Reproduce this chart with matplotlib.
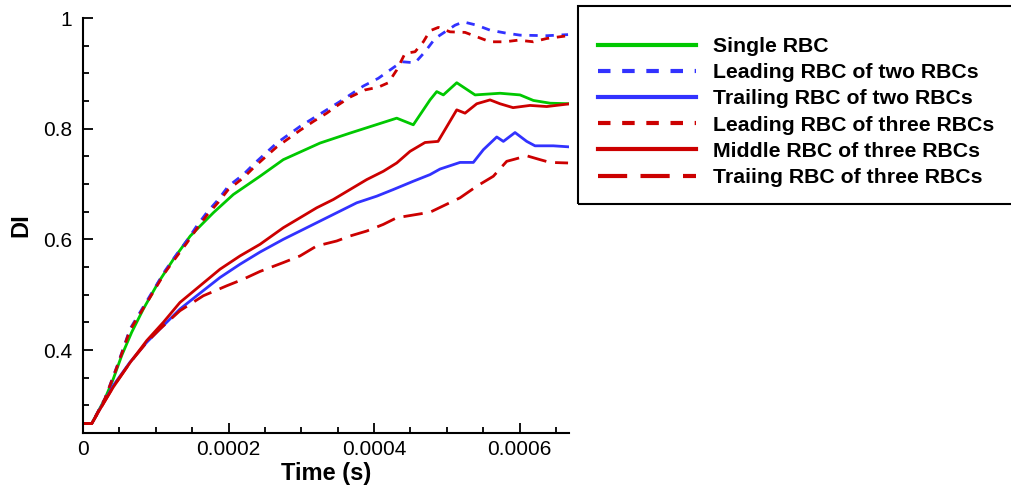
import matplotlib
matplotlib.use("Agg")
import matplotlib.pyplot as plt
from matplotlib.patches import Rectangle
from matplotlib.ticker import MultipleLocator, FormatStrFormatter
import numpy as np

plt.rcParams['font.family'] = ['Liberation Sans', 'DejaVu Sans']

# time in seconds, DI values
t_single = [0, 1.2e-5, 3.02e-5, 4.17e-5, 5.32e-5, 6.69e-5, 8.29e-5, 1.035e-4, 1.243e-4, 1.474e-4,
            1.791e-4, 2.066e-4, 2.433e-4, 2.753e-4, 3.258e-4, 3.670e-4, 4.312e-4, 4.54e-4, 4.77e-4,
            4.862e-4, 4.953e-4, 5.137e-4, 5.389e-4, 5.732e-4, 6.007e-4, 6.19e-4, 6.422e-4, 6.695e-4]
di_single = [0.267, 0.267, 0.312, 0.348, 0.390, 0.432, 0.474, 0.522, 0.564, 0.606,
             0.648, 0.681, 0.714, 0.744, 0.774, 0.792, 0.819, 0.807, 0.852,
             0.867, 0.861, 0.883, 0.861, 0.864, 0.861, 0.851, 0.846, 0.845]

t_lead2 = [0, 1.2e-5, 3.02e-5, 4.8e-5, 6.46e-5, 9.21e-5, 1.127e-4, 1.288e-4, 1.425e-4, 1.563e-4,
           1.70e-4, 1.86e-4, 1.997e-4, 2.203e-4, 2.364e-4, 2.663e-4, 2.983e-4, 3.35e-4, 3.533e-4,
           3.853e-4, 4.059e-4, 4.22e-4, 4.381e-4, 4.564e-4, 4.701e-4, 4.839e-4, 4.976e-4, 5.114e-4,
           5.228e-4, 5.412e-4, 5.595e-4, 5.801e-4, 6.007e-4, 6.374e-4, 6.667e-4]
di_lead2 = [0.267, 0.267, 0.312, 0.375, 0.438, 0.498, 0.543, 0.573, 0.597, 0.624,
            0.648, 0.672, 0.696, 0.717, 0.738, 0.774, 0.804, 0.834, 0.849,
            0.877, 0.891, 0.906, 0.921, 0.919, 0.939, 0.963, 0.975, 0.987,
            0.993, 0.987, 0.978, 0.973, 0.969, 0.968, 0.970]

t_trail2 = [0, 1.2e-5, 2.34e-5, 4.17e-5, 6.46e-5, 8.76e-5, 1.058e-4, 1.333e-4, 1.563e-4, 1.883e-4,
            2.158e-4, 2.433e-4, 2.753e-4, 2.983e-4, 3.212e-4, 3.487e-4, 3.762e-4, 4.037e-4, 4.265e-4,
            4.54e-4, 4.77e-4, 4.907e-4, 5.182e-4, 5.365e-4, 5.503e-4, 5.687e-4, 5.778e-4, 5.938e-4,
            6.099e-4, 6.213e-4, 6.465e-4, 6.695e-4]
di_trail2 = [0.267, 0.267, 0.294, 0.336, 0.378, 0.414, 0.438, 0.474, 0.498, 0.531,
             0.555, 0.577, 0.600, 0.615, 0.630, 0.648, 0.666, 0.678, 0.690,
             0.705, 0.717, 0.727, 0.739, 0.739, 0.762, 0.785, 0.777, 0.793,
             0.777, 0.769, 0.769, 0.767]

t_lead3 = [0, 1.2e-5, 3.02e-5, 4.8e-5, 6.46e-5, 9.21e-5, 1.127e-4, 1.288e-4, 1.425e-4, 1.563e-4,
           1.70e-4, 1.86e-4, 1.997e-4, 2.203e-4, 2.364e-4, 2.663e-4, 2.983e-4, 3.166e-4, 3.35e-4,
           3.509e-4, 3.67e-4, 3.876e-4, 4.059e-4, 4.197e-4, 4.312e-4, 4.426e-4, 4.564e-4, 4.678e-4,
           4.77e-4, 4.884e-4, 5.045e-4, 5.251e-4, 5.434e-4, 5.595e-4, 5.801e-4, 5.984e-4, 6.19e-4,
           6.374e-4, 6.667e-4]
di_lead3 = [0.267, 0.267, 0.312, 0.374, 0.436, 0.495, 0.540, 0.569, 0.593, 0.619,
            0.643, 0.667, 0.690, 0.711, 0.732, 0.767, 0.797, 0.813, 0.828,
            0.843, 0.857, 0.870, 0.875, 0.883, 0.906, 0.936, 0.939, 0.957,
            0.977, 0.983, 0.975, 0.974, 0.965, 0.957, 0.957, 0.960, 0.957,
            0.963, 0.968]

t_mid3 = [0, 1.2e-5, 2.34e-5, 4.17e-5, 6.46e-5, 8.76e-5, 1.104e-4, 1.333e-4, 1.608e-4, 1.883e-4,
          2.158e-4, 2.433e-4, 2.753e-4, 2.983e-4, 3.212e-4, 3.441e-4, 3.67e-4, 3.9e-4, 4.128e-4,
          4.312e-4, 4.495e-4, 4.701e-4, 4.88e-4, 5.137e-4, 5.251e-4, 5.412e-4, 5.595e-4, 5.732e-4,
          5.911e-4, 6.144e-4, 6.374e-4, 6.695e-4]
di_mid3 = [0.267, 0.267, 0.293, 0.333, 0.377, 0.417, 0.450, 0.486, 0.516, 0.546,
           0.570, 0.591, 0.621, 0.639, 0.657, 0.672, 0.690, 0.708, 0.723,
           0.738, 0.759, 0.775, 0.777, 0.834, 0.828, 0.845, 0.852, 0.845,
           0.838, 0.842, 0.840, 0.845]

t_trail3 = [0, 1.2e-5, 2.34e-5, 4.17e-5, 6.46e-5, 8.76e-5, 1.058e-4, 1.333e-4, 1.654e-4, 1.975e-4,
            2.203e-4, 2.433e-4, 2.753e-4, 2.983e-4, 3.212e-4, 3.487e-4, 3.67e-4, 3.9e-4, 4.128e-4,
            4.312e-4, 4.587e-4, 4.77e-4, 5.182e-4, 5.412e-4, 5.64e-4, 5.824e-4, 5.938e-4, 6.099e-4,
            6.282e-4, 6.42e-4, 6.667e-4]
di_trail3 = [0.267, 0.267, 0.293, 0.334, 0.377, 0.414, 0.438, 0.471, 0.498, 0.516,
             0.528, 0.542, 0.558, 0.570, 0.588, 0.597, 0.606, 0.615, 0.627,
             0.639, 0.645, 0.649, 0.675, 0.696, 0.714, 0.741, 0.745, 0.751,
             0.744, 0.739, 0.738]

labels = ['Single RBC', 'Leading RBC of two RBCs', 'Trailing RBC of two RBCs',
          'Leading RBC of three RBCs', 'Middle RBC of three RBCs', 'Traiing RBC of three RBCs']

green = '#00c800'
blue = '#3232ff'
red = '#cc0000'
short_dash = (3.0, 2.8)
long_dash = (7.0, 3.2)

fig = plt.figure(figsize=(10.11, 4.86), dpi=100)
ax = fig.add_axes([83 / 1011, 53 / 486, 486 / 1011, 415 / 486])

lw = 2.0
ax.plot(t_single, di_single, color=green, lw=lw, label=labels[0])
ax.plot(t_lead2, di_lead2, color=blue, lw=lw, dashes=short_dash, label=labels[1])
ax.plot(t_trail2, di_trail2, color=blue, lw=lw, label=labels[2])
ax.plot(t_lead3, di_lead3, color=red, lw=lw, dashes=short_dash, label=labels[3])
ax.plot(t_mid3, di_mid3, color=red, lw=lw, label=labels[4])
ax.plot(t_trail3, di_trail3, color=red, lw=lw, dashes=long_dash, label=labels[5])

ax.set_xlim(0, 0.000668)
ax.set_ylim(0.25, 1.0)
ax.xaxis.set_major_locator(MultipleLocator(0.0002))
ax.xaxis.set_minor_locator(MultipleLocator(0.00005))
ax.yaxis.set_major_locator(MultipleLocator(0.2))
ax.yaxis.set_minor_locator(MultipleLocator(0.05))
ax.xaxis.set_major_formatter(FormatStrFormatter('%g'))
ax.yaxis.set_major_formatter(FormatStrFormatter('%g'))

for side in ['top', 'right']:
    ax.spines[side].set_visible(False)
for side in ['left', 'bottom']:
    ax.spines[side].set_linewidth(1.5)
ax.tick_params(which='both', direction='in', width=1.3, labelsize=15)
ax.tick_params(which='major', length=7, pad=8)
ax.tick_params(axis='x', which='major', pad=5)
ax.tick_params(which='minor', length=4)

ax.set_xlabel('Time (s)', fontsize=17, fontweight='bold')
ax.set_ylabel('DI', fontsize=17, fontweight='bold')
ax.xaxis.set_label_coords(0.5, -40 / 415)
ax.xaxis.label.set_va('center')
ax.yaxis.set_label_coords(-62 / 486, 0.5)
ax.yaxis.label.set_va('center')

# legend frame drawn separately (extends past the right edge)
fig.patches.append(Rectangle((578 / 1011, 1 - 204 / 486), 500 / 1011, 198 / 486,
                             transform=fig.transFigure, fill=False, edgecolor='black', lw=1.5))
leg = ax.legend(loc='upper left', bbox_to_anchor=(598 / 1011, 1 - 37 / 486),
                bbox_transform=fig.transFigure, frameon=False, borderpad=0, borderaxespad=0,
                handlelength=4.6, handletextpad=0.8, labelspacing=0.34,
                prop={'size': 15.3, 'weight': 'bold'})
for line in leg.get_lines():
    line.set_linewidth(3)

fig.savefig('out.png', dpi=100)
